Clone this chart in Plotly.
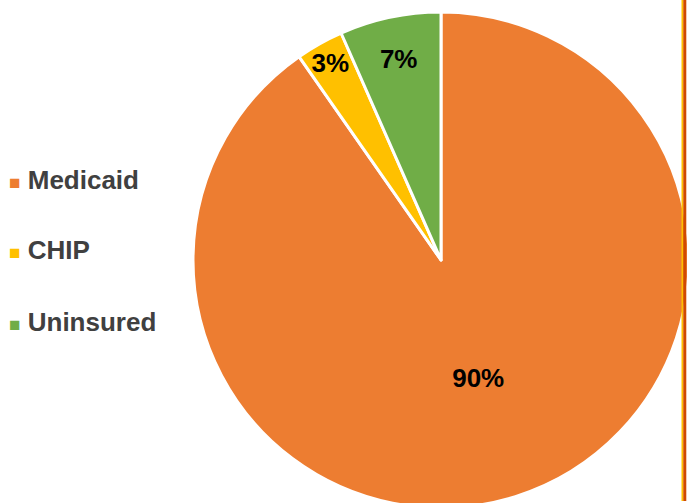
import plotly.graph_objects as go

categories = ["Medicaid", "CHIP", "Uninsured"]
shares = [90.3, 3.1, 6.6]
colors = ["#ED7D31", "#FFC000", "#70AD47"]

W, H = 700, 520
fig = go.Figure()
fig.add_trace(go.Pie(
    labels=categories,
    values=shares,
    sort=False,
    direction="clockwise",
    rotation=0,
    marker=dict(colors=colors, line=dict(color="white", width=3)),
    texttemplate="<b>%{percent:.0%}</b>",
    textposition="inside",
    insidetextorientation="horizontal",
    textfont=dict(family="Arial", size=26, color="black"),
    showlegend=False,
    domain=dict(x=[193 / W, 689 / W], y=[0, 1]),
    hoverinfo="label+percent",
))

# legend built from the category / colour lists
legend_y = [180, 250, 322]
for lab, col, yy in zip(categories, colors, legend_y):
    fig.add_annotation(
        xref="paper", yref="paper",
        x=7 / W, y=1 - (yy - 12) / (H - 24),
        xanchor="left", yanchor="middle",
        text=f"<span style='color:{col};font-size:19px'>■</span> <b>{lab}</b>",
        showarrow=False,
        font=dict(family="Arial", size=26, color="#404040"),
    )

# right border lines
fig.add_shape(type="line", xref="paper", yref="paper",
              x0=682.5 / W, x1=682.5 / W, y0=1 + 12 / 496, y1=1 - (501 - 12) / 496,
              line=dict(color="#FFC000", width=2))
fig.add_shape(type="line", xref="paper", yref="paper",
              x0=684.8 / W, x1=684.8 / W, y0=1 + 12 / 496, y1=1 - (501 - 12) / 496,
              line=dict(color="#D04A02", width=3))

fig.update_layout(
    width=W, height=H,
    margin=dict(l=0, r=0, t=12, b=12),
    paper_bgcolor="white", plot_bgcolor="white",
    uniformtext=dict(minsize=26, mode="show"),
)

fig.write_html(
    "out.html",
    config={"displayModeBar": False},
    post_script="document.body.style.margin='0';document.body.style.overflow='hidden';document.documentElement.style.overflow='hidden';",
)
